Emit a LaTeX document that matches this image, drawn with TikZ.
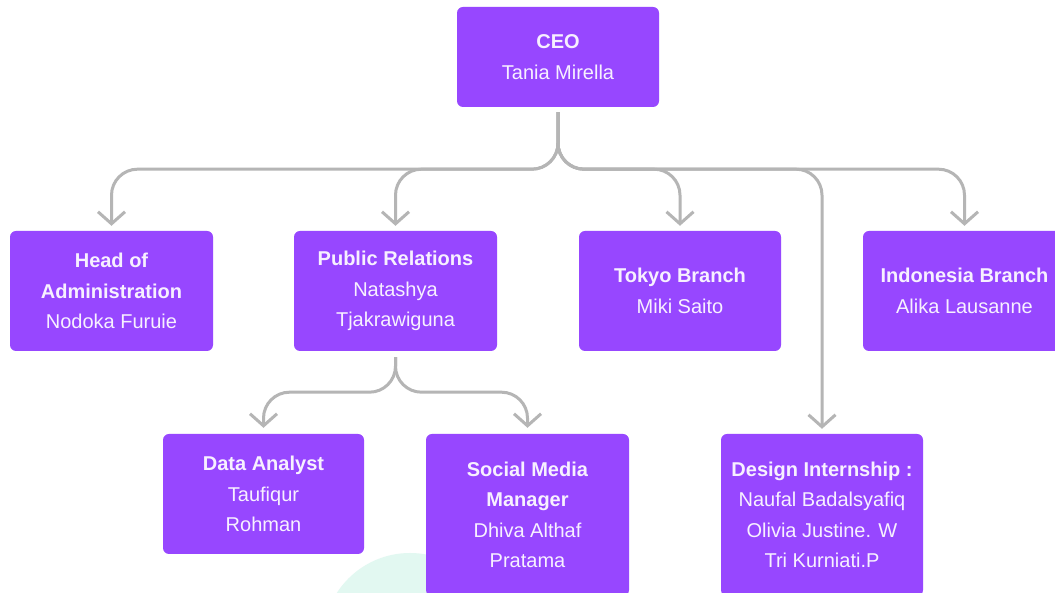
\documentclass[tikz,border=0pt]{standalone}
\usepackage{fontspec}
\setmainfont{Liberation Sans}
\usetikzlibrary{arrows.meta}
\definecolor{boxpurple}{HTML}{9747FF}
\definecolor{boxtext}{HTML}{F7F0FF}
\definecolor{conngrey}{HTML}{B5B5B5}
\definecolor{mint}{HTML}{E2F8F1}
\tikzset{
  orgbox/.style={fill=boxpurple, rounded corners=6pt, text=boxtext, align=center,
    inner sep=0pt, font=\fontsize{20}{30.5}\selectfont},
  conn/.style={draw=conngrey, line width=3pt, rounded corners=26pt,
    -{Straight Barb[length=12pt,width=27pt,line width=3pt]}},
}
\begin{document}
\begin{tikzpicture}[x=1pt,y=1pt]
\path[use as bounding box, clip] (0,0) rectangle (1055,593);
\fill[white] (0,0) rectangle (1055,593);
% faint background disc
\fill[mint] (410,-47) circle[radius=87];

\node[orgbox, minimum width=202pt, minimum height=100pt] (ceo) at (558,536)
  {\textbf{CEO}\\Tania Mirella};
\node[orgbox, minimum width=203pt, minimum height=120pt] (head) at (111.5,302)
  {\textbf{Head of}\\\textbf{Administration}\\Nodoka Furuie};
\node[orgbox, minimum width=203pt, minimum height=120pt] (pr) at (395.5,302)
  {\textbf{Public Relations}\\Natashya\\Tjakrawiguna};
\node[orgbox, minimum width=202pt, minimum height=120pt] (tokyo) at (680,302)
  {\textbf{Tokyo Branch}\\Miki Saito};
\node[orgbox, minimum width=203pt, minimum height=120pt] (indo) at (964.5,302)
  {\textbf{Indonesia Branch}\\Alika Lausanne};
\node[orgbox, minimum width=201pt, minimum height=120pt] (data) at (263.5,99)
  {\textbf{Data Analyst}\\Taufiqur\\Rohman};
\node[orgbox, minimum width=203pt, minimum height=162pt] (social) at (527.5,78)
  {\textbf{Social Media}\\\textbf{Manager}\\Dhiva Althaf\\Pratama};
\node[orgbox, minimum width=202pt, minimum height=162pt] (design) at (822,78)
  {\textbf{Design Internship :}\\Naufal Badalsyafiq\\Olivia Justine. W\\Tri Kurniati.P};

% CEO connectors
\draw[conn] ([yshift=-5pt]ceo.south) -- ++(0,-57) -| ([yshift=5pt]head.north);
\draw[conn] ([yshift=-5pt]ceo.south) -- ++(0,-57) -| ([yshift=5pt]pr.north);
\draw[conn] ([yshift=-5pt]ceo.south) -- ++(0,-57) -| ([yshift=5pt]tokyo.north);
\draw[conn] ([yshift=-5pt]ceo.south) -- ++(0,-57) -| ([yshift=5pt]indo.north);
\draw[conn] ([yshift=-5pt]ceo.south) -- ++(0,-57) -| ([yshift=5pt]design.north);
% Public Relations connectors
\draw[conn] ([yshift=-6pt]pr.south) -- ++(0,-35) -| ([yshift=6pt]data.north);
\draw[conn] ([yshift=-6pt]pr.south) -- ++(0,-35) -| ([yshift=6pt]social.north);
\end{tikzpicture}
\end{document}
